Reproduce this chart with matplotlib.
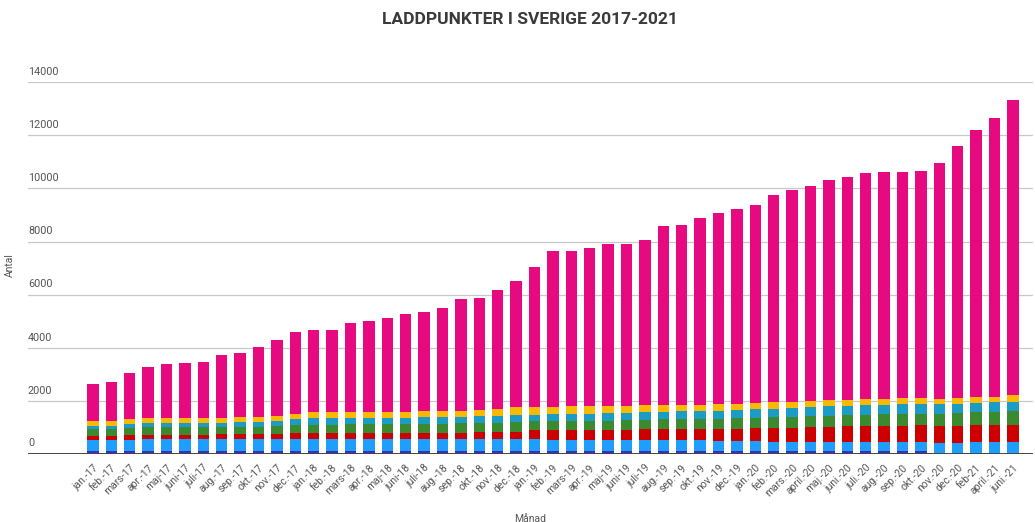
import numpy as np
import matplotlib
matplotlib.use("Agg")
import matplotlib.pyplot as plt

plt.rcParams["font.family"] = ["Roboto", "DejaVu Sans"]

# ── Data ──────────────────────────────────────────────────────────────────────

months = [
    "jan.-17", "feb.-17", "mars-17", "apr.-17", "maj-17", "juni-17", "juli-17",
    "aug.-17", "sep.-17", "okt.-17", "nov.-17", "dec.-17",
    "jan.-18", "feb.-18", "mars-18", "apr.-18", "maj-18", "juni-18", "juli-18",
    "aug.-18", "sep.-18", "okt.-18", "nov.-18", "dec.-18",
    "jan.-19", "feb.-19", "mars-19", "apr.-19", "maj-19", "juni-19", "juli-19",
    "aug.-19", "sep.-19", "okt.-19", "nov.-19", "dec.-19",
    "jan.-20", "feb.-20", "mars.-20", "april.-20", "maj.-20", "juni.-20",
    "juli.-20", "aug.-20", "sep.-20", "okt.-20", "nov.-20", "dec.-20",
    "feb-21", "april.-21", "juni.-21",
]

# stacked segments, bottom to top
dark_blue = [110] * 36 + [130, 130, 130, 130, 135, 135, 135, 135, 135, 135, 0, 0, 0, 0, 0]
light_blue = [425, 435, 445, 450, 450, 455, 455, 455, 455, 455, 455, 450,
              450, 450, 450, 450, 450, 450, 450, 450, 450, 450, 450, 450,
              450, 445, 440, 435, 430, 425, 424, 420, 415, 410, 405, 400,
              365, 350, 340, 340, 338, 337, 337, 337, 337, 337, 410, 430,
              450, 460, 470]
red = [150, 150, 165, 175, 175, 175, 175, 180, 185, 190, 195, 224,
       224, 224, 226, 228, 230, 232, 240, 245, 250, 260, 270, 285,
       340, 350, 355, 360, 370, 380, 399, 410, 420, 430, 440, 450,
       480, 500, 523, 540, 560, 575, 590, 600, 610, 620, 660, 650,
       650, 650, 650]
green = [250, 250, 265, 275, 275, 275, 275, 280, 285, 290, 300, 335,
         335, 335, 335, 337, 338, 340, 345, 350, 350, 355, 360, 373,
         340, 345, 350, 355, 360, 365, 373, 375, 378, 380, 385, 390,
         400, 405, 410, 415, 420, 425, 430, 435, 440, 440, 460, 470,
         480, 490, 500]
teal = [120, 120, 140, 160, 160, 160, 160, 165, 170, 170, 180, 220,
        247, 247, 247, 248, 248, 250, 255, 255, 258, 262, 268, 275,
        255, 260, 265, 270, 275, 280, 284, 290, 295, 300, 305, 310,
        320, 328, 336, 340, 345, 350, 355, 360, 365, 370, 360, 360,
        360, 355, 350]
yellow = [185, 185, 185, 195, 195, 190, 190, 175, 195, 185, 200, 190,
          224, 224, 222, 217, 214, 208, 230, 220, 212, 243, 262, 267,
          295, 280, 290, 280, 265, 250, 260, 245, 232, 220, 245, 230,
          225, 247, 235, 245, 242, 238, 233, 230, 223, 208, 200, 210,
          210, 205, 260]
magenta = [1420, 1485, 1760, 1935, 2045, 2085, 2115, 2375, 2420, 2640, 2860, 3070,
           3090, 3090, 3350, 3420, 3530, 3680, 3720, 3870, 4200, 4190, 4450, 4740,
           5240, 5840, 5850, 5930, 6080, 6080, 6220, 6750, 6790, 7040, 7190, 7340,
           7460, 7790, 7965, 8080, 8270, 8360, 8490, 8515, 8500, 8540, 8860, 9460,
           10030, 10500, 11100]

series = [dark_blue, light_blue, red, green, teal, yellow, magenta]
colors = ["#3b2fc0", "#1e9eff", "#cc0000", "#3c8a30", "#1c9cc4", "#f9b900", "#e6097f"]

y_ticks = [0, 2000, 4000, 6000, 8000, 10000, 12000, 14000]

# ──────────────────────────────────────────────────────────────────────────────


def main():
    fig = plt.figure(figsize=(10.35, 5.22), dpi=100)
    ax = fig.add_axes([28 / 1035, 1 - 454.3 / 522, (1033 - 28) / 1035, (454.3 - 82) / 522])

    x = np.arange(len(months))
    bottom = np.zeros(len(months))
    for vals, col in zip(series, colors):
        vals = np.array(vals, dtype=float)
        ax.bar(x, vals, bottom=bottom, width=0.62, color=col, linewidth=0, zorder=2)
        bottom += vals

    ax.set_xlim(-3.53, 51.09)
    ax.set_ylim(0, 14000)

    for t in y_ticks[1:]:
        ax.axhline(t, color="#c8c8c8", linewidth=0.9, zorder=1)
        ax.text(0, t + 200, str(t), transform=ax.get_yaxis_transform(),
                ha="left", va="bottom", fontsize=7.8, color="#555555")
    ax.text(0, 250, "0", transform=ax.get_yaxis_transform(),
            ha="left", va="bottom", fontsize=7.8, color="#555555")
    ax.axhline(0, color="#444444", linewidth=1.4, zorder=3)

    for s in ax.spines.values():
        s.set_visible(False)
    ax.set_yticks([])
    ax.set_xticks(x)
    ax.set_xticklabels(months, rotation=45, ha="right", rotation_mode="anchor",
                       fontsize=7.5, color="#555555")
    ax.tick_params(axis="x", length=0, pad=6)

    fig.text(530 / 1035, 1 - 20 / 522, "LADDPUNKTER I SVERIGE 2017-2021",
             ha="center", va="center", fontsize=12.5, fontweight="bold", color="#3a3a3a")
    fig.text(10 / 1035, 1 - 265 / 522, "Antal", rotation=90,
             ha="center", va="center", fontsize=7.5, color="#555555")
    fig.text(530 / 1035, 1 - 519 / 522, "Månad",
             ha="center", va="center", fontsize=7.5, color="#555555")

    fig.savefig("out.png", dpi=100)


if __name__ == "__main__":
    main()
